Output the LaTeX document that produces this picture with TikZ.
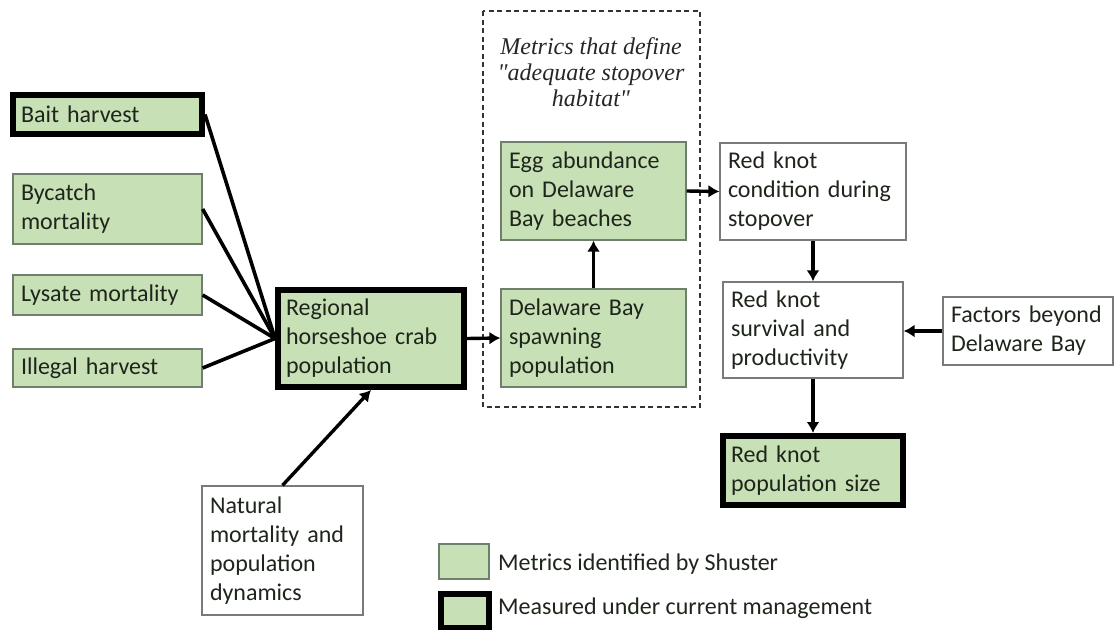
\documentclass[tikz,border=0pt]{standalone}
\usepackage{fontspec}
\setmainfont{Carlito}
\newfontfamily\titlefont{Liberation Serif}
\usetikzlibrary{arrows.meta}
\definecolor{metric}{HTML}{C8E0B6}
\definecolor{gborder}{HTML}{6F7F6B}
\definecolor{wborder}{HTML}{7A7A7A}
\definecolor{txt}{HTML}{1E261C}
\tikzset{
  basebox/.style={rectangle, inner xsep=8pt, inner ysep=2pt, align=left,
    font=\fontsize{24}{29}\selectfont, text=txt},
  greenbox/.style={basebox, fill=metric, draw=gborder, line width=1.3pt},
  measbox/.style={basebox, fill=metric, draw=black, line width=6pt},
  whitebox/.style={basebox, fill=white, draw=wborder, line width=1.3pt},
  feed/.style={draw=black, line width=3.6pt},
  flow/.style={draw=black, line width=3.4pt, -{Latex[length=11pt,width=13pt]}},
  dashbox/.style={draw=black!80, line width=1.3pt, dash pattern=on 5pt off 3.5pt},
  legtext/.style={anchor=west, font=\fontsize{24}{29}\selectfont, text=txt, inner sep=0pt}
}
\begin{document}
\begin{tikzpicture}[x=1pt,y=-1pt]
\useasboundingbox (0,0) rectangle (1115,629);
% dashed group
\draw[dashbox] (483,11) rectangle (700,407);
\node[font=\titlefont\itshape\fontsize{24}{26}\selectfont, align=center, text=black!85] (title) at (591,72)
  {Metrics that define\\"adequate stopover\\habitat"};
% left boxes
\node[measbox, minimum height=39pt, text width=173pt] (bait) at (107.5,114.5) {Bait harvest};
\node[greenbox, minimum height=70pt, text width=173pt] (bycatch) at (107.5,209) {Bycatch\\mortality};
\node[greenbox, minimum height=40pt, text width=173pt] (lysate) at (107.5,295) {Lysate mortality};
\node[greenbox, minimum height=38pt, text width=173pt] (illegal) at (107.5,368) {Illegal harvest};
% regional
\node[measbox, minimum height=97pt, text width=170pt] (regional) at (371,338.5) {Regional\\horseshoe crab\\population};
% middle
\node[greenbox, minimum height=98pt, text width=169pt] (egg) at (593.5,191) {Egg abundance\\on Delaware\\Bay beaches};
\node[greenbox, minimum height=98pt, text width=169pt] (spawn) at (593.5,338) {Delaware Bay\\spawning\\population};
% right
\node[whitebox, minimum height=97pt, text width=170pt] (cond) at (813,191.5) {Red knot\\condition during\\stopover};
\node[whitebox, minimum height=96pt, text width=164pt] (surv) at (813,330) {Red knot\\survival and\\productivity};
\node[whitebox, minimum height=68pt, text width=154pt] (factors) at (1028,331) {Factors beyond\\Delaware Bay};
\node[measbox, minimum height=69pt, text width=164pt] (pop) at (813,470.5) {Red knot\\population size};
% natural
\node[whitebox, minimum height=129pt, text width=145pt] (natural) at (282.5,550.5) {Natural\\mortality and\\population\\dynamics};
% connectors
\draw[feed] (bait.east) -- (regional.west);
\draw[feed] (bycatch.east) -- (regional.west);
\draw[feed] (lysate.east) -- (regional.west);
\draw[feed] (illegal.east) -- (regional.west);
\draw[flow] (natural.north) -- (regional.south);
\draw[flow] (regional.east) -- (spawn.west);
\draw[flow] (spawn.north) -- (egg.south);
\draw[flow] (egg.east) -- (cond.west);
\draw[flow] (cond.south) -- (surv.north);
\draw[flow] (factors.west) -- (surv.east |- factors.west);
\draw[flow] (surv.south) -- (pop.north);
% legend
\node[rectangle, fill=metric, draw=gborder, line width=1.3pt, minimum width=50pt, minimum height=35pt, inner sep=0pt] (leg1) at (464,561.5) {};
\node[rectangle, fill=metric, draw=black, line width=6pt, minimum width=48pt, minimum height=34pt, inner sep=0pt] (leg2) at (465,611) {};
\node[legtext] (leg1t) at (498,564) {Metrics identified by Shuster};
\node[legtext] (leg2t) at (498,608) {Measured under current management};
\end{tikzpicture}
\end{document}
